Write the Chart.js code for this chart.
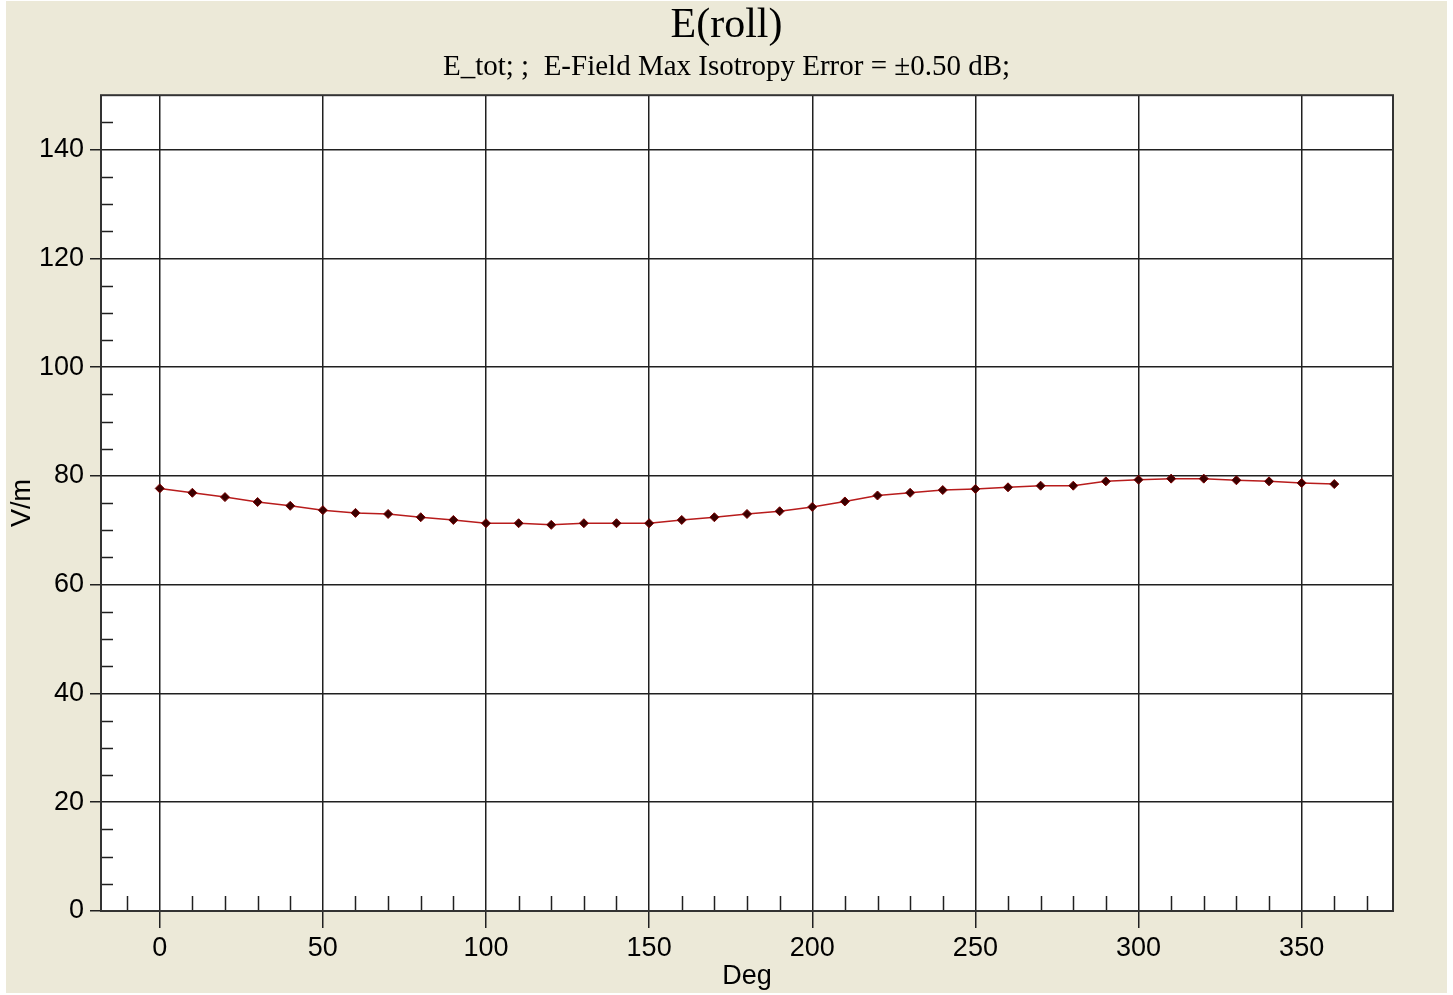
<!DOCTYPE html>
<html>
<head>
<meta charset="utf-8">
<script src="https://cdn.jsdelivr.net/npm/chart.js@4"></script>
<style>
    body { margin: 0; background: #ffffff; }
    #wrap { position: absolute; left: 6px; top: 1px; width: 1441px; height: 992px; }
</style>
</head>
<body>
<div id="wrap"><canvas id="roll-chart"></canvas></div>
<script>
const degrees = [0, 10, 20, 30, 40, 50, 60, 70, 80, 90, 100, 110, 120, 130, 140, 150, 160, 170, 180,
    190, 200, 210, 220, 230, 240, 250, 260, 270, 280, 290, 300, 310, 320, 330, 340, 350, 360];
const fieldVm = [77.7, 76.9, 76.1, 75.2, 74.5, 73.7, 73.2, 73.0, 72.4, 71.9, 71.3, 71.3, 71.0, 71.3, 71.3, 71.3, 71.9, 72.4, 73.0,
    73.5, 74.3, 75.3, 76.4, 76.9, 77.4, 77.6, 77.9, 78.2, 78.2, 79.0, 79.3, 79.5, 79.5, 79.2, 79.0, 78.7, 78.5];
const xMajorTicks = [0, 50, 100, 150, 200, 250, 300, 350];
const yMajorTicks = [0, 20, 40, 60, 80, 100, 120, 140];
const xMinorTicks = [-10, 10, 20, 30, 40, 60, 70, 80, 90, 110, 120, 130, 140, 160, 170, 180, 190,
    210, 220, 230, 240, 260, 270, 280, 290, 310, 320, 330, 340, 360, 370];
const yMinorTicks = [5, 10, 15, 25, 30, 35, 45, 50, 55, 65, 70, 75, 85, 90, 95, 105, 110, 115, 125, 130, 135, 145];

const sans = '"Liberation Sans", Arial, sans-serif';
const serif = '"Liberation Serif", "Times New Roman", serif';

// beige window, white plot, frame and the little inward ticks
const frame = {
    id: 'frame',
    beforeDraw(chart) {
        const c = chart.ctx;
        const a = chart.chartArea;
        c.save();
        c.fillStyle = '#ECE9D8';
        c.fillRect(0, 0, chart.width, chart.height);
        c.fillStyle = '#ffffff';
        c.fillRect(a.left, a.top, a.right - a.left, a.bottom - a.top);
        c.restore();
    },
    afterDraw(chart) {
        const c = chart.ctx;
        const a = chart.chartArea;
        const xs = chart.scales.x;
        const ys = chart.scales.y;
        c.save();
        c.strokeStyle = '#202020';
        c.lineWidth = 1.5;
        c.beginPath();
        xMinorTicks.forEach(v => {
            const px = Math.round(xs.getPixelForValue(v)) + 0.5;
            c.moveTo(px, a.bottom);
            c.lineTo(px, a.bottom - 15);
        });
        yMinorTicks.forEach(v => {
            const py = Math.round(ys.getPixelForValue(v)) + 0.5;
            c.moveTo(a.left, py);
            c.lineTo(a.left + 12, py);
        });
        c.stroke();
        c.strokeStyle = '#333333';
        c.lineWidth = 2;
        c.strokeRect(a.left, a.top, a.right - a.left, a.bottom - a.top);
        c.restore();
    }
};

const ctx = document.getElementById('roll-chart');

new Chart(ctx, {
    type: 'line',
    data: {
        datasets: [{
            label: 'E_tot',
            data: degrees.map((d, i) => ({ x: d, y: fieldVm[i] })),
            borderColor: '#b81c1c',
            borderWidth: 1.5,
            tension: 0,
            pointStyle: 'rectRot',
            pointRadius: 4.5,
            pointBackgroundColor: '#3a0000',
            pointBorderColor: '#7a0000',
            pointBorderWidth: 1
        }]
    },
    plugins: [frame],
    options: {
        responsive: true,
        maintainAspectRatio: false,
        animation: false,
        layout: {
            padding: 0
        },
        plugins: {
            legend: { display: false },
            tooltip: { enabled: false },
            title: {
                display: true,
                text: 'E(roll)',
                color: '#000',
                font: { family: serif, size: 42, weight: 'normal', lineHeight: 1.1 },
                padding: { top: 2, bottom: 0 }
            },
            subtitle: {
                display: true,
                text: 'E_tot; ;  E-Field Max Isotropy Error = \u00b10.50 dB;',
                color: '#000',
                font: { family: serif, size: 29, weight: 'normal', lineHeight: 1.0 },
                padding: { top: 4, bottom: 13 }
            }
        },
        scales: {
            x: {
                type: 'linear',
                min: -18,
                max: 378,
                afterBuildTicks: s => { s.ticks = xMajorTicks.map(v => ({ value: v })); },
                afterFit: s => { s.height = 82; },
                grid: { color: '#202020', lineWidth: 1.5, tickLength: 17, tickColor: '#202020' },
                border: { display: false },
                ticks: { color: '#000', font: { family: sans, size: 27 }, padding: 4, maxRotation: 0 },
                title: {
                    display: true,
                    text: 'Deg',
                    color: '#000',
                    font: { family: sans, size: 27 },
                    padding: 0
                }
            },
            y: {
                min: 0,
                max: 150,
                afterBuildTicks: s => { s.ticks = yMajorTicks.map(v => ({ value: v })); },
                afterFit: s => { s.width = 95; },
                grid: { color: '#202020', lineWidth: 1.5, tickLength: 11, tickColor: '#202020' },
                border: { display: false },
                ticks: { color: '#000', font: { family: sans, size: 27 }, padding: 6 },
                title: {
                    display: true,
                    text: 'V/m',
                    color: '#000',
                    font: { family: sans, size: 27 },
                    padding: 0
                }
            },
            // empty strip on the right so the title stays centred on the window
            rightGap: {
                position: 'right',
                display: true,
                afterFit: s => { s.width = 54; },
                grid: { display: false, drawTicks: false },
                border: { display: false },
                ticks: { display: false }
            }
        }
    }
});
</script>
</body>
</html>
